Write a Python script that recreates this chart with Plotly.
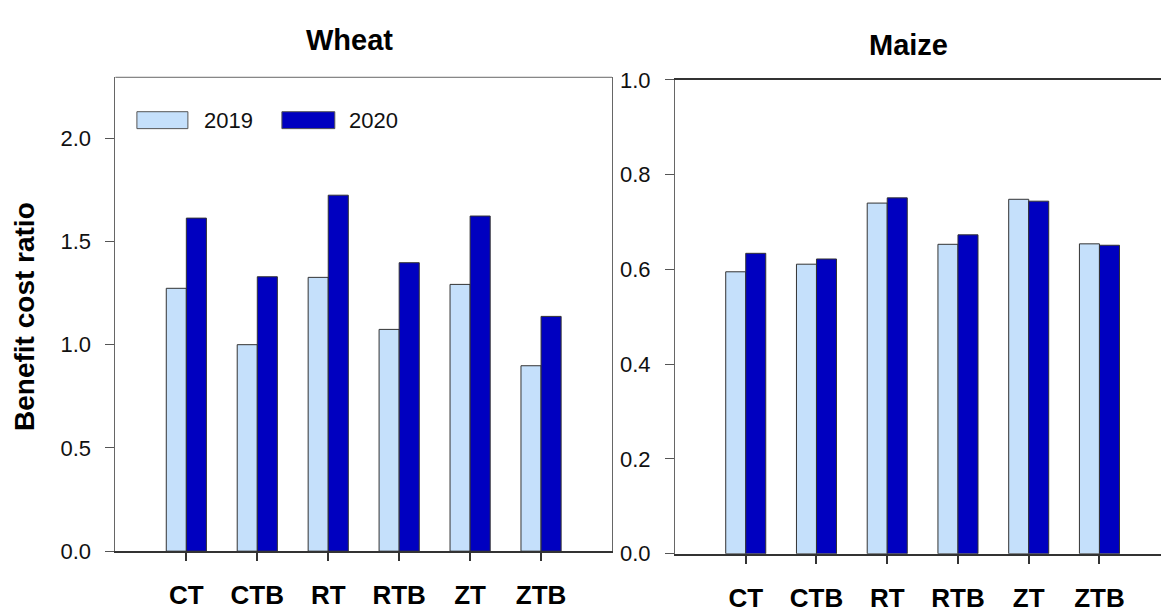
import plotly.graph_objects as go

# Benefit cost ratio by tillage/residue treatment, two seasons, two crops
treatments = ["CT", "CTB", "RT", "RTB", "ZT", "ZTB"]
years = ["2019", "2020"]

wheat_2019 = [1.273, 1.000, 1.326, 1.074, 1.292, 0.898]
wheat_2020 = [1.613, 1.329, 1.724, 1.397, 1.623, 1.137]

maize_2019 = [0.595, 0.611, 0.740, 0.653, 0.748, 0.654]
maize_2020 = [0.634, 0.622, 0.751, 0.673, 0.744, 0.651]

wheat_ticks = [0.0, 0.5, 1.0, 1.5, 2.0]
maize_ticks = [0.0, 0.2, 0.4, 0.6, 0.8, 1.0]

LIGHT = "#c5e0fb"
DARK = "#0000c0"
EDGE = "#333333"
FONT = "Arial, Liberation Sans, sans-serif"

W, H = 1161, 613
xpos = list(range(len(treatments)))

fig = go.Figure()

for vals, color, name in [(wheat_2019, LIGHT, years[0]), (wheat_2020, DARK, years[1])]:
    fig.add_trace(go.Bar(x=xpos, y=vals, name=name, marker=dict(color=color, line=dict(color=EDGE, width=1)),
                         xaxis="x", yaxis="y", showlegend=False, offsetgroup=name))
for vals, color, name in [(maize_2019, LIGHT, years[0]), (maize_2020, DARK, years[1])]:
    fig.add_trace(go.Bar(x=xpos, y=vals, name=name, marker=dict(color=color, line=dict(color=EDGE, width=1)),
                         xaxis="x2", yaxis="y2", showlegend=False, offsetgroup=name))

def px_x(v):
    return v / W

def px_y(v):
    return 1 - v / H

tick_font = dict(family=FONT, size=22, color="#111111")
cat_font = dict(family=FONT, size=26, color="#000000", weight="bold")

common_x = dict(tickmode="array", tickvals=xpos, ticktext=treatments, ticks="outside", ticklen=8,
                tickwidth=1.5, tickcolor="#333333", tickfont=cat_font, showgrid=False, zeroline=False,
                showline=True, linecolor="#333333", linewidth=2, ticklabelstandoff=12)
common_y = dict(tickmode="array", ticks="outside", ticklen=9, tickwidth=1, tickcolor="#555555",
                tickfont=tick_font, showgrid=False, zeroline=False, showline=True, linecolor="#666666",
                linewidth=1, tickformat=".1f", ticklabelstandoff=10)

fig.update_layout(
    width=W, height=H,
    margin=dict(l=0, r=0, t=0, b=0),
    paper_bgcolor="white", plot_bgcolor="white",
    barmode="group", bargap=0.434, bargroupgap=0,
    xaxis=dict(domain=[px_x(115.4), px_x(612)], range=[-1.0, 6.0], anchor="y", **common_x),
    yaxis=dict(domain=[px_y(564), px_y(68.3)], range=[0, 2.295], anchor="x", tickvals=wheat_ticks,
               mirror=True, **common_y),
    xaxis2=dict(domain=[px_x(675), 1.0], range=[-1.0, 5.87], anchor="y2", mirror=True, **common_x),
    yaxis2=dict(domain=[px_y(566.7), px_y(71)], range=[0, 1.0], anchor="x2", tickvals=maize_ticks,
                **common_y),
)

# thin top border of the wheat panel
fig.add_shape(type="line", xref="x domain", yref="y domain", x0=0, x1=1, y0=1, y1=1,
              line=dict(color="#666666", width=1))

# panel titles and shared y-axis title
fig.add_annotation(text="Wheat", x=px_x(350), y=px_y(29), xref="paper", yref="paper", showarrow=False,
                   font=dict(family=FONT, size=29, color="#000000", weight="bold"), xanchor="center", yanchor="middle")
fig.add_annotation(text="Maize", x=px_x(909), y=px_y(35), xref="paper", yref="paper", showarrow=False,
                   font=dict(family=FONT, size=29, color="#000000", weight="bold"), xanchor="center", yanchor="middle")
fig.add_annotation(text="Benefit cost ratio", x=px_x(25), y=px_y(319), xref="paper", yref="paper",
                   showarrow=False, textangle=-90,
                   font=dict(family=FONT, size=28, color="#000000", weight="bold"), xanchor="center", yanchor="middle")

# legend: wide swatches with year labels inside the wheat panel
legend_items = [(years[0], LIGHT, 136.9, 187.9, 201.6), (years[1], DARK, 281.9, 334.8, 346.7)]
for label, color, sx0, sx1, tx in legend_items:
    fig.add_shape(type="rect", xref="paper", yref="paper", x0=px_x(sx0), x1=px_x(sx1),
                  y0=px_y(122), y1=px_y(104.3), fillcolor=color, line=dict(color="#555555", width=1))
    fig.add_annotation(text=label, x=px_x(tx), y=px_y(113), xref="paper", yref="paper", showarrow=False,
                       xanchor="left", yanchor="middle", font=dict(family=FONT, size=22, color="#111111"))

fig.write_html("out.html")
